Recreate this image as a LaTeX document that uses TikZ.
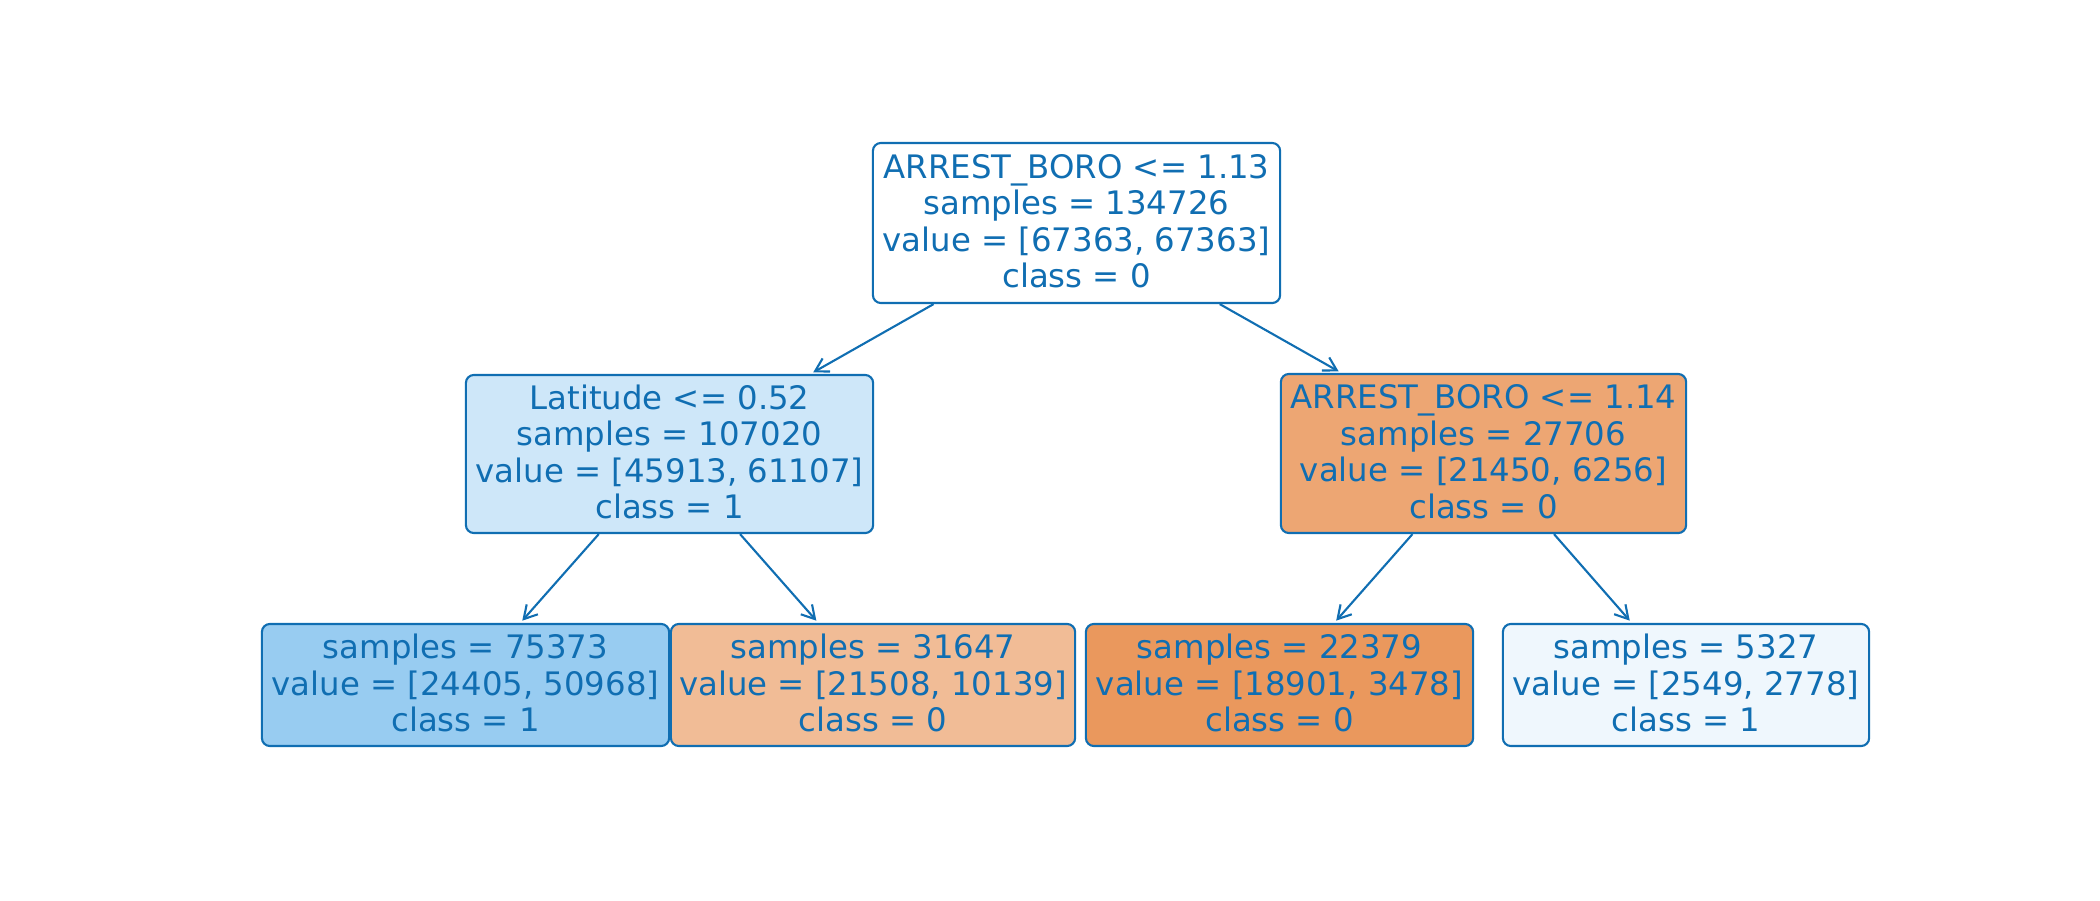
\documentclass[tikz,border=0pt]{standalone}
\usepackage{fontspec}
\setmainfont{DejaVu Sans}
\usetikzlibrary{arrows.meta}
\definecolor{ink}{RGB}{16,110,178}
\definecolor{cRoot}{RGB}{255,255,255}
\definecolor{cLeft}{RGB}{206,231,249}
\definecolor{cRight}{RGB}{237,166,115}
\definecolor{cLeafA}{RGB}{152,204,241}
\definecolor{cLeafB}{RGB}{241,188,150}
\definecolor{cLeafC}{RGB}{234,152,93}
\definecolor{cLeafD}{RGB}{239,247,253}
\tikzset{
  treebox/.style={draw=ink, text=ink, line width=0.6pt, rounded corners=0.08cm,
    inner sep=0pt, align=center, text depth=0.045cm, font=\fontsize{9.2pt}{10.38pt}\selectfont},
  treeedge/.style={draw=ink, line width=0.6pt,
    -{Straight Barb[length=0.13cm,width=0.15cm,line width=0.6pt]}, shorten >=0.03cm}
}
\begin{document}
\begin{tikzpicture}[x=0.01cm,y=-0.01cm]
\useasboundingbox (0,0) rectangle (2100,900);
\node[treebox, fill=cRoot, minimum width=4.07cm, minimum height=1.60cm] (root) at (1076.5,223)
  {ARREST\_BORO <= 1.13\\samples = 134726\\value = [67363, 67363]\\class = 0};
\node[treebox, fill=cLeft, minimum width=4.07cm, minimum height=1.58cm] (left) at (669.5,454)
  {Latitude <= 0.52\\samples = 107020\\value = [45913, 61107]\\class = 1};
\node[treebox, fill=cRight, minimum width=4.05cm, minimum height=1.59cm] (right) at (1483.5,453.5)
  {ARREST\_BORO <= 1.14\\samples = 27706\\value = [21450, 6256]\\class = 0};
\node[treebox, fill=cLeafA, minimum width=4.07cm, minimum height=1.22cm] (leafa) at (465.5,685)
  {samples = 75373\\value = [24405, 50968]\\class = 1};
\node[treebox, fill=cLeafB, minimum width=4.04cm, minimum height=1.22cm] (leafb) at (873,685)
  {samples = 31647\\value = [21508, 10139]\\class = 0};
\node[treebox, fill=cLeafC, minimum width=3.87cm, minimum height=1.22cm] (leafc) at (1279.5,685)
  {samples = 22379\\value = [18901, 3478]\\class = 0};
\node[treebox, fill=cLeafD, minimum width=3.66cm, minimum height=1.22cm] (leafd) at (1686,685)
  {samples = 5327\\value = [2549, 2778]\\class = 1};
\draw[treeedge] (root) -- (left);
\draw[treeedge] (root) -- (right);
\draw[treeedge] (left) -- (leafa);
\draw[treeedge] (left) -- (leafb);
\draw[treeedge] (right) -- (leafc);
\draw[treeedge] (right) -- (leafd);
\end{tikzpicture}
\end{document}
